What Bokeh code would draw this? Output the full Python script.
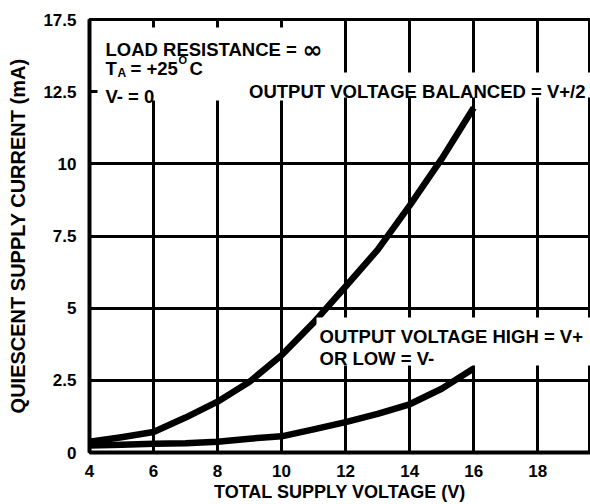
from bokeh.plotting import figure
from bokeh.models import Range1d, FixedTicker, Label, BoxAnnotation
from bokeh.embed import file_html
from bokeh.resources import INLINE

# ---- data ----
SUPPLY_V = [4, 5, 6, 7, 8, 9, 10, 11, 12, 13, 14, 15, 16]
I_BALANCED = [0.37, 0.53, 0.71, 1.21, 1.76, 2.45, 3.37, 4.50, 5.75, 7.02, 8.55, 10.17, 11.94]
I_HIGH_LOW = [0.24, 0.27, 0.30, 0.32, 0.37, 0.48, 0.56, 0.80, 1.05, 1.34, 1.67, 2.21, 2.91]

X_TICKS = [4, 6, 8, 10, 12, 14, 16, 18]
Y_TICKS = [0, 2.5, 5, 7.5, 10, 12.5, 15]
Y_TICK_LABELS = ["0", "2.5", "5", "7.5", "10", "12.5", "17.5"]

X_TITLE = "TOTAL SUPPLY VOLTAGE (V)"
Y_TITLE = "QUIESCENT SUPPLY CURRENT (mA)"

# ---- layout / style ----
FONT = "Liberation Sans"
W, H = 590, 504
ML, MR, MT, MB = 89, 0, 19, 52
X0, X1 = 4, 19.65
Y0, Y1 = 0, 15
SX = (W - ML - MR) / (X1 - X0)
SY = (H - MT - MB) / (Y1 - Y0)


def px2x(px):
    return X0 + (px - ML) / SX


def py2y(py):
    return Y0 + (H - MB - py) / SY


p = figure(width=W, height=H, x_range=Range1d(X0, X1), y_range=Range1d(Y0, Y1),
           output_backend="svg", toolbar_location=None,
           min_border_left=ML, min_border_right=MR, min_border_top=MT, min_border_bottom=MB)
p.outline_line_color = "black"
p.outline_line_width = 3
p.outline_line_alpha = 1.0

for ax in (p.xaxis[0], p.yaxis[0]):
    ax.axis_line_width = 4
    ax.axis_line_color = "black"
    ax.major_tick_line_color = None
    ax.minor_tick_line_color = None
    ax.major_label_text_font = FONT
    ax.major_label_text_font_style = "bold"
    ax.major_label_text_font_size = "17px"
    ax.major_label_text_color = "black"
    ax.axis_label_text_font = FONT
    ax.axis_label_text_font_style = "bold"
    ax.axis_label_text_color = "black"

p.xaxis[0].ticker = FixedTicker(ticks=X_TICKS)
p.xaxis[0].axis_label = X_TITLE
p.xaxis[0].axis_label_text_font_size = "18px"
p.xaxis[0].major_label_standoff = 6
p.xaxis[0].axis_label_standoff = 2

p.yaxis[0].ticker = FixedTicker(ticks=Y_TICKS)
p.yaxis[0].major_label_overrides = dict(zip(Y_TICKS, Y_TICK_LABELS))
p.yaxis[0].axis_label = Y_TITLE
p.yaxis[0].axis_label_text_font_size = "20px"
p.yaxis[0].major_label_standoff = 7
p.yaxis[0].axis_label_standoff = 11

p.xgrid[0].ticker = FixedTicker(ticks=X_TICKS)
p.ygrid[0].ticker = FixedTicker(ticks=Y_TICKS)
p.xgrid[0].grid_line_color = "black"
p.ygrid[0].grid_line_color = "black"
p.xgrid[0].grid_line_width = 3
p.ygrid[0].grid_line_width = 3

# white boxes behind the annotation texts (they hide the grid)
for l, r, t, b in [(97, 333, 27, 100), (245, 600, 72, 97), (316, 600, 317, 365)]:
    p.add_layout(BoxAnnotation(left=px2x(l), right=min(px2x(r), X1), top=py2y(t), bottom=py2y(b),
                               fill_color="white", fill_alpha=1.0, line_color=None))

p.line(SUPPLY_V, I_BALANCED, line_color="black", line_width=6.5, line_join="round")
p.line(SUPPLY_V, I_HIGH_LOW, line_color="black", line_width=6.5, line_join="round")


def txt(s, px, py, size="18.5px", align="left", font=FONT):
    p.add_layout(Label(x=px2x(px), y=py2y(py), text=s, text_font=font, text_font_style="bold",
                       text_font_size=size, text_color="black", text_align=align,
                       text_baseline="alphabetic"))


txt("LOAD RESISTANCE =", 105, 48.5)
txt("\u221e", 302, 49.5, size="24px", font="DejaVu Sans")
txt("T", 105, 68)
txt("A", 117, 72, size="12px")
txt("= +25", 130, 68)
txt("O", 178, 59.5, size="11px")
txt("C", 189, 68)
txt("V- = 0", 105, 96)
txt("OUTPUT VOLTAGE BALANCED = V+/2", 585, 91, align="right")
txt("OUTPUT VOLTAGE HIGH = V+", 319, 336)
txt("OR LOW = V-", 319, 358)

open("out.html", "w").write(file_html(p, INLINE))
